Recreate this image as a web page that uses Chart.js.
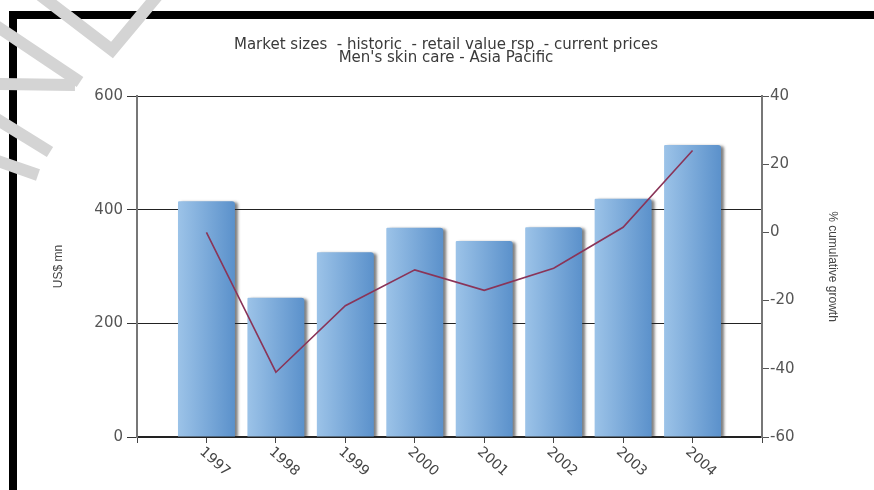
<!DOCTYPE html>
<html>
<head>
<meta charset="utf-8">
<script src="https://cdn.jsdelivr.net/npm/chart.js@4.4.0/dist/chart.umd.min.js"></script>
<style>
  html, body { margin: 0; padding: 0; background: #fff; }
  #contenedor { width: 874px; height: 490px; }
</style>
</head>
<body>
<div id="contenedor"><canvas id="grafico" width="874" height="490"></canvas></div>
<script>
// Datos
const anios = [1997, 1998, 1999, 2000, 2001, 2002, 2003, 2004];
const ventas = [415, 245, 325, 368, 345, 369, 419, 514]; // US$ mn
const crecimiento = [0, -41, -21.5, -11, -17, -10.5, 1.5, 24]; // % cumulative growth
const ticksIzq = [0, 200, 400, 600];
const ticksDer = [-60, -40, -20, 0, 20, 40];
const tituloLineas = ['Market sizes  - historic  - retail value rsp  - current prices', "Men's skin care - Asia Pacific"];

const fuenteTicks = "'DejaVu Sans', sans-serif";
const fuenteTitulos = "'Liberation Sans Narrow', 'Liberation Sans', sans-serif";

function degradadoBarra(context) {
    const chart = context.chart;
    const x = chart.scales.x;
    if (!chart.chartArea || !x || !context.raw) return '#7aa7d8';
    const centro = x.getPixelForValue(context.raw.x);
    const medio = x.width / 9 * 0.41;
    const g = chart.ctx.createLinearGradient(centro - medio, 0, centro + medio, 0);
    g.addColorStop(0, '#9cc3e8');
    g.addColorStop(1, '#5b91cb');
    return g;
}

// sombra gris detras de cada barra
const sombraBarras = {
    id: 'sombraBarras',
    beforeDatasetDraw(chart, args) {
        if (args.meta.type !== 'bar') return;
        const ctx = chart.ctx;
        ctx.save();
        ctx.shadowColor = 'rgba(40,40,40,0.6)';
        ctx.shadowOffsetX = 3;
        ctx.shadowOffsetY = 1;
        ctx.shadowBlur = 3;
    },
    afterDatasetDraw(chart, args) {
        if (args.meta.type !== 'bar') return;
        chart.ctx.restore();
    }
};

// etiquetas del eje x giradas hacia abajo, marco y trazos de la esquina
const extras = {
    id: 'extras',
    afterDraw(chart) {
        const ctx = chart.ctx;
        const x = chart.scales.x;
        const base = chart.chartArea.bottom;
        ctx.save();
        ctx.fillStyle = '#444';
        ctx.font = "14px " + fuenteTicks;
        ctx.textAlign = 'left';
        ctx.textBaseline = 'middle';
        anios.forEach(function(a) {
            ctx.save();
            ctx.translate(x.getPixelForValue(a) - 5, base + 13);
            ctx.rotate(42 * Math.PI / 180);
            ctx.fillText(String(a), 0, 0);
            ctx.restore();
        });
        ctx.restore();

        ctx.save();
        ctx.fillStyle = '#000';
        ctx.fillRect(9, 11, 865, 8);
        ctx.fillRect(9, 11, 8, 479);
        ctx.strokeStyle = '#d4d4d4';
        ctx.lineWidth = 12;
        const trazos = [
            [[40, -5], [112, 50], [158, -5]],
            [[-5, 25], [80, 82]],
            [[-5, 84], [75, 85]],
            [[-5, 118], [50, 152]],
            [[-5, 160], [38, 175]]
        ];
        trazos.forEach(function(t) {
            ctx.beginPath();
            ctx.moveTo(t[0][0], t[0][1]);
            for (let i = 1; i < t.length; i++) ctx.lineTo(t[i][0], t[i][1]);
            ctx.stroke();
        });
        ctx.restore();
    }
};

document.addEventListener('DOMContentLoaded', function() {
    const ctx = document.getElementById('grafico').getContext('2d');
    new Chart(ctx, {
        data: {
            datasets: [
                {
                    type: 'line',
                    label: '% cumulative growth',
                    data: anios.map((a, i) => ({ x: a, y: crecimiento[i] })),
                    yAxisID: 'y2',
                    borderColor: '#8a3458',
                    borderWidth: 1.6,
                    pointRadius: 0,
                    tension: 0,
                    order: 0
                },
                {
                    type: 'bar',
                    label: 'US$ mn',
                    data: anios.map((a, i) => ({ x: a, y: ventas[i] })),
                    yAxisID: 'y',
                    backgroundColor: degradadoBarra,
                    borderRadius: { topRight: 3, topLeft: 1 },
                    borderSkipped: 'bottom',
                    categoryPercentage: 1,
                    barPercentage: 0.82,
                    order: 1
                }
            ]
        },
        options: {
            responsive: false,
            animation: false,
            layout: { padding: { left: 38, right: 20, top: 0, bottom: 0 } },
            plugins: {
                legend: { display: false },
                tooltip: { enabled: false },
                title: {
                    display: true,
                    text: tituloLineas,
                    color: '#3a3a3a',
                    font: { family: fuenteTicks, size: 15, weight: 'normal', lineHeight: 0.9 },
                    padding: { top: 38, bottom: 31 }
                }
            },
            scales: {
                x: {
                    type: 'linear',
                    offset: false,
                    min: 1996,
                    max: 2005,
                    ticks: { display: false, stepSize: 1 },
                    grid: { drawOnChartArea: false, tickLength: 6, tickColor: '#444', offset: false },
                    border: { color: '#222', width: 1.5 },
                    afterFit: function(scale) { scale.height = 53; }
                },
                y: {
                    position: 'left',
                    min: 0,
                    max: 600,
                    afterBuildTicks: function(scale) { scale.ticks = ticksIzq.map(v => ({ value: v })); },
                    ticks: { color: '#555', padding: 4, font: { family: fuenteTicks, size: 15 } },
                    grid: { color: '#222', lineWidth: 1, tickLength: 10, tickColor: '#333' },
                    border: { color: '#777', width: 2 },
                    title: {
                        display: true,
                        text: 'US$ mn',
                        color: '#444',
                        font: { family: fuenteTitulos, size: 12 },
                        padding: { top: 13, bottom: 0 }
                    },
                    afterFit: function(scale) { scale.width = 99; }
                },
                y2: {
                    position: 'right',
                    min: -60,
                    max: 40,
                    afterBuildTicks: function(scale) { scale.ticks = ticksDer.map(v => ({ value: v })); },
                    ticks: { color: '#555', padding: 1, font: { family: fuenteTicks, size: 15 } },
                    grid: { drawOnChartArea: false, tickLength: 7, tickColor: '#555' },
                    border: { color: '#777', width: 2 },
                    title: {
                        display: true,
                        text: '% cumulative growth',
                        color: '#444',
                        font: { family: fuenteTitulos, size: 12 },
                        padding: { top: 14, bottom: 0 }
                    },
                    afterFit: function(scale) { scale.width = 92; }
                }
            }
        },
        plugins: [sombraBarras, extras]
    });
});
</script>
</body>
</html>
